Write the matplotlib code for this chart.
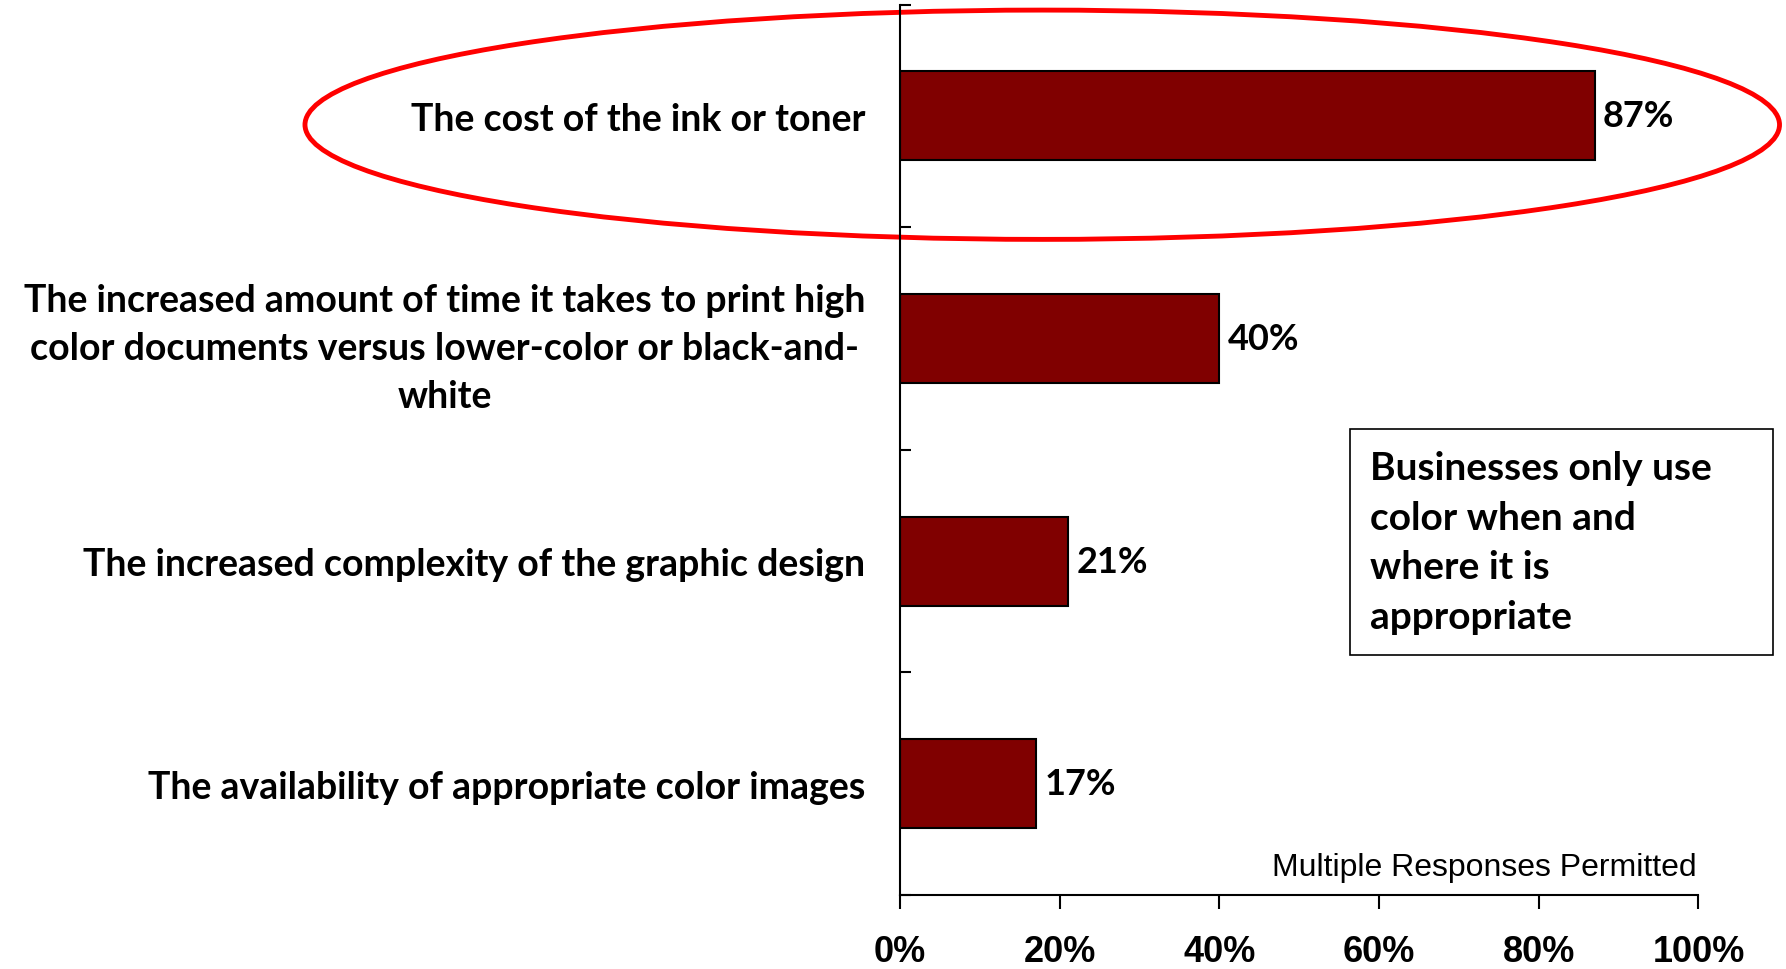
import matplotlib.pyplot as plt
from matplotlib.patches import Ellipse, Rectangle

categories = [
    "The cost of the ink or toner",
    "The increased amount of time it takes to print high\ncolor documents versus lower-color or black-and-\nwhite",
    "The increased complexity of the graphic design",
    "The availability of appropriate color images",
]
values = [87, 40, 21, 17]
x_ticks = [0, 20, 40, 60, 80, 100]
x_tick_labels = ["0%", "20%", "40%", "60%", "80%", "100%"]
note_text = "Businesses only use\ncolor when and\nwhere it is\nappropriate"
footnote = "Multiple Responses Permitted"

bold_font = ["Lato", "DejaVu Sans"]
narrow_font = ["Liberation Sans Narrow", "Liberation Sans", "DejaVu Sans"]

fig = plt.figure(figsize=(17.86, 9.70), dpi=100)
ax = fig.add_axes([0.504, 0.0763, 0.447, 0.918])

pos = list(range(len(categories)))
bars = ax.barh(pos, values, height=0.4, color="#800000", edgecolor="black", linewidth=1.5)

ax.set_xlim(0, 100)
ax.set_ylim(len(categories) - 0.5, -0.5)

# value labels at bar ends
ax.bar_label(bars, labels=[f"{v}%" for v in values], padding=6,
             fontsize=26, fontweight="bold", family=bold_font)

# category labels as major ticks, separators as minor ticks
ax.set_yticks(pos)
ax.set_yticklabels(categories, fontsize=27, fontweight="bold", family=bold_font,
                   linespacing=1.5)
for lbl in ax.get_yticklabels():
    lbl.set_multialignment("center")
ax.set_yticks([p - 0.5 for p in pos] + [len(categories) - 0.5], minor=True)
ax.tick_params(axis="y", which="major", length=0, pad=25)
ax.tick_params(axis="y", which="minor", direction="in", length=8, width=1.5)

ax.set_xticks(x_ticks)
ax.set_xticklabels(x_tick_labels, fontsize=26, fontweight="bold", family=narrow_font)
ax.tick_params(axis="x", direction="out", length=10, width=1.5, pad=18)

for side in ["top", "right"]:
    ax.spines[side].set_visible(False)
for side in ["left", "bottom"]:
    ax.spines[side].set_linewidth(1.5)

ax.text(0.998, 0.015, footnote, transform=ax.transAxes, ha="right", va="bottom",
        fontsize=23, family=narrow_font)

# highlight around the top item
ax.add_patch(Ellipse((17.8, 0.04), 184.7, 1.03, fill=False, edgecolor="#ff0000",
                     linewidth=3.5, clip_on=False))

# note box
fig.add_artist(Rectangle((0.756, 0.3237), 0.237, 0.233, transform=fig.transFigure,
                         facecolor="white", edgecolor="black", linewidth=1.2))
fig.text(0.767, 0.44, note_text, ha="left", va="center", fontsize=28,
         fontweight="bold", family=bold_font, linespacing=1.5)

fig.savefig("out.png", dpi=100)
